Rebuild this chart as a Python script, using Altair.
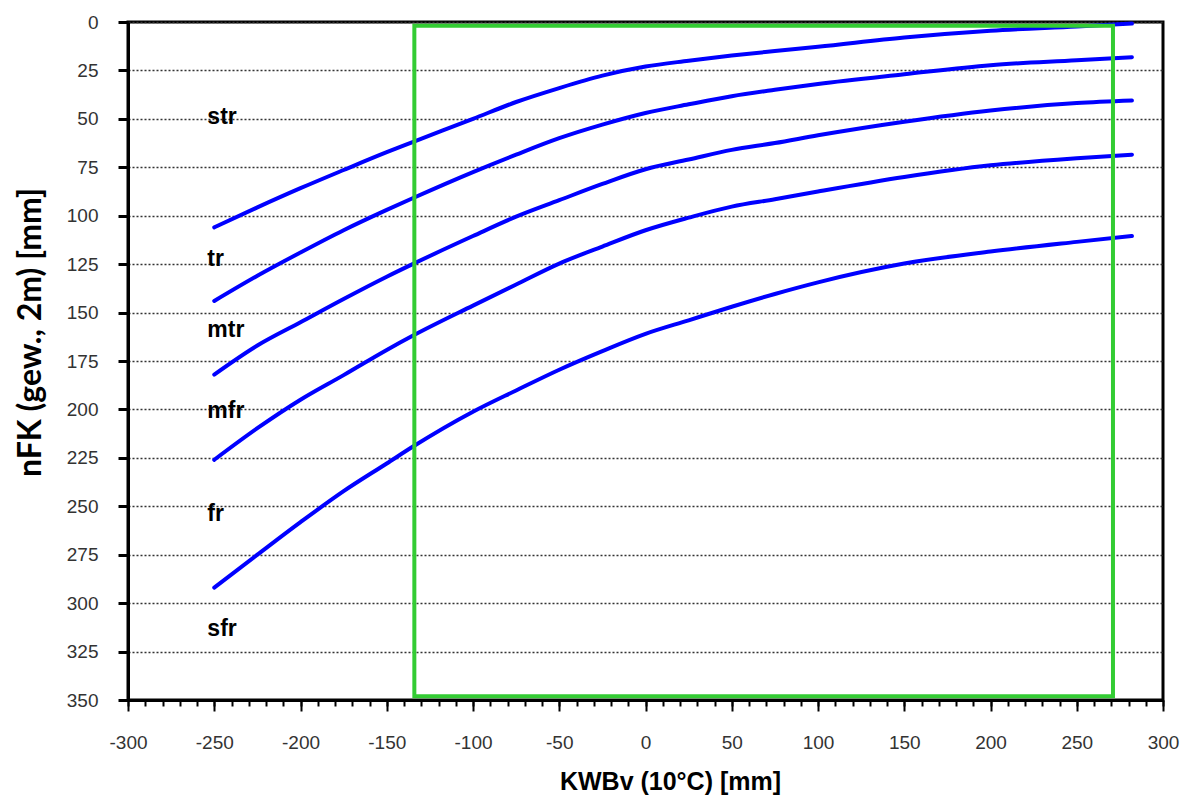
import altair as alt
import pandas as pd

# KWBv positions (x) of the read points
kwb = [-250, -225, -200, -175, -150, -135, -100, -75, -50, -25, 0, 25, 50, 75, 100, 150, 200, 250, 282]

# nFK values of the five boundary curves
c_str_tr = [106, 95.7, 85.8, 76.4, 67.2, 62, 50, 41.3, 34.1, 27.7, 23, 20, 17.3, 15, 12.8, 8, 4.5, 2.3, 0.8]
c_tr_mtr = [144, 131, 119, 107.5, 97, 91, 77.5, 68.5, 60, 53, 47, 42.5, 38.3, 35, 32, 27, 22.3, 19.8, 18.2]
c_mtr_mfr = [182, 167, 155, 143, 131.5, 125, 110.5, 100.5, 92, 83.6, 76, 71, 66, 62.5, 58.5, 51.5, 45.7, 41.8, 40.5]
c_mfr_fr = [226, 209.7, 195, 182.3, 169.3, 162, 146.4, 135.5, 124.7, 115.9, 107.5, 101, 95.3, 91.5, 87.5, 80, 74, 70.3, 68.5]
c_fr_sfr = [292, 275, 258.2, 242.2, 227.9, 219.3, 201.2, 190.2, 179.5, 169.9, 161, 154, 147, 140.4, 134.4, 124.7, 118.5, 113.5, 110.5]

series_names = ["str/tr", "tr/mtr", "mtr/mfr", "mfr/fr", "fr/sfr"]
series_values = [c_str_tr, c_tr_mtr, c_mtr_mfr, c_mfr_fr, c_fr_sfr]

# class labels
class_labels = ["str", "tr", "mtr", "mfr", "fr", "sfr"]
label_kwb = [-254, -254, -254, -254, -254, -254]
label_nfk = [52.4, 126, 162.7, 204.3, 257.7, 317]

# highlighted range (green box)
box_kwb = [-134, 271]
box_nfk = [2, 348]

# ticks
x_major = list(range(-300, 301, 50))
x_minor = list(range(-300, 301, 10))
y_ticks = list(range(0, 351, 25))

rows = []
for name, vals in zip(series_names, series_values):
    for xv, yv in zip(kwb, vals):
        rows.append({"series": name, "kwb": xv, "nfk": yv})
df_lines = pd.DataFrame(rows)
df_labels = pd.DataFrame({"cls": class_labels, "lx": label_kwb, "ly": label_nfk})
df_box = pd.DataFrame({"x1": [box_kwb[0]], "x2": [box_kwb[1]], "y1": [box_nfk[0]], "y2": [box_nfk[1]]})

xscale = alt.Scale(domain=[-300, 300], nice=False, zero=False)
yscale = alt.Scale(domain=[0, 350], reverse=True, nice=False, zero=False)

lines = alt.Chart(df_lines).mark_line(
    color="#0000FF", strokeWidth=4, interpolate="monotone", strokeCap="round"
).encode(
    x=alt.X("kwb:Q", scale=xscale, axis=alt.Axis(
        values=x_major, orient="bottom", title="KWBv (10°C) [mm]",
        labelExpr="'' + datum.value", labelFlush=False, labelOverlap=False,
        tickSize=11, tickWidth=2, tickColor="black",
        domainColor="black", domainWidth=3, grid=False,
        labelFont="Liberation Sans", labelFontSize=19, labelColor="#333333", labelPadding=22,
        titleFont="Liberation Sans", titleFontSize=25, titleFontWeight="bold", titleColor="black",
        titleX=542, titleY=81, titleAlign="center", titleBaseline="middle")),
    y=alt.Y("nfk:Q", scale=yscale, axis=alt.Axis(
        values=y_ticks, orient="left", title="nFK (gew., 2m) [mm]",
        labelFlush=False, labelOverlap=False,
        tickSize=10, tickWidth=3, tickColor="black",
        domainColor="black", domainWidth=3,
        grid=True, gridDash=[2, 2], gridColor="#333333", gridWidth=1.5,
        labelFont="Liberation Sans", labelFontSize=19, labelColor="#333333", labelPadding=20,
        titleFont="Lato", titleFontSize=32, titleFontWeight="bold", titleColor="black",
        titleX=-98, titleY=310, titleAngle=-90, titleAlign="center", titleBaseline="middle")),
    detail="series:N",
)

labels = alt.Chart(df_labels).mark_text(
    align="left", baseline="alphabetic", font="Liberation Sans", fontWeight="bold",
    fontSize=23, color="black"
).encode(
    x=alt.X("lx:Q", scale=xscale, axis=None),
    y=alt.Y("ly:Q", scale=yscale, axis=None),
    text="cls:N",
)

box = alt.Chart(df_box).mark_rect(
    stroke="#33CC33", strokeWidth=4, fillOpacity=0
).encode(
    x=alt.X("x1:Q", scale=xscale, axis=alt.Axis(
        values=x_minor, orient="bottom", title=None, labels=False, domain=False,
        tickSize=6, tickWidth=2, tickColor="black", grid=False)),
    x2="x2:Q",
    y=alt.Y("y1:Q", scale=yscale, axis=None),
    y2="y2:Q",
)

chart = alt.layer(lines, labels, box).resolve_axis(x="independent", y="independent").properties(
    width=1035, height=678,
    autosize=alt.AutoSizeParams(type="none"),
    padding={"left": 120, "top": 14, "right": 18, "bottom": 97},
).configure(background="white").configure_view(stroke="black", strokeWidth=3)

chart.save("out.html", embed_options={"renderer": "svg", "actions": False})
